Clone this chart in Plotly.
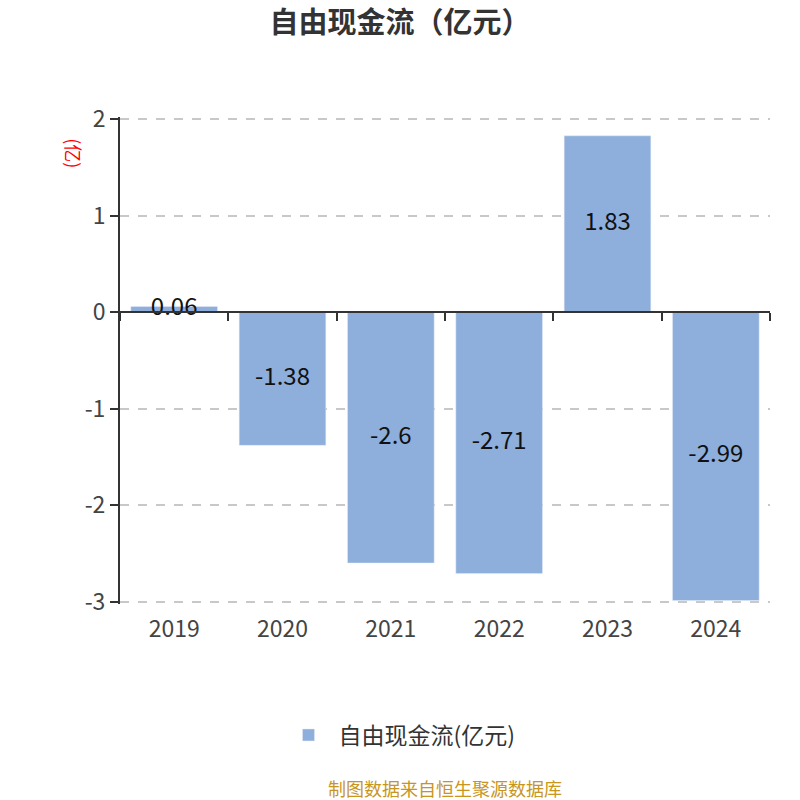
import plotly.graph_objects as go

years = ["2019", "2020", "2021", "2022", "2023", "2024"]
fcf = [0.06, -1.38, -2.6, -2.71, 1.83, -2.99]
series_name = "自由现金流(亿元)"
y_ticks = [-3, -2, -1, 0, 1, 2]
y_tick_text = ["-3", "-2", "-1", "0", "1", "2"]

bar_color = "#8EAEDB"
font_family = "Noto Sans CJK SC"

fig = go.Figure()

fig.add_trace(go.Bar(
    x=years, y=fcf,
    name=series_name,
    marker=dict(color=bar_color),
    width=0.8,
))

# value labels centred in each bar
fig.add_trace(go.Scatter(
    x=years, y=[v / 2 for v in fcf],
    mode="text",
    text=[str(v) for v in fcf],
    textfont=dict(size=24, color="#111111", family=font_family),
    showlegend=False, hoverinfo="skip",
))

# invisible trace so the axis at zero (with boundary ticks) gets drawn
fig.add_trace(go.Scatter(
    x=years, y=[0] * len(years),
    mode="markers", marker=dict(opacity=0),
    xaxis="x2", showlegend=False, hoverinfo="skip",
))

# a little padding so the grid lines at 2 and -3 are still drawn
ymin, ymax = -3.025, 2.025
zero_pos = (0 - ymin) / (ymax - ymin)

fig.update_layout(
    width=800, height=800,
    paper_bgcolor="white", plot_bgcolor="white",
    font=dict(family=font_family, color="#333333"),
    margin=dict(l=120, r=30, t=117, b=196),
    title=dict(text="<b>自由现金流（亿元）</b>", x=0.5, xanchor="center",
               y=0.972, yanchor="middle",
               font=dict(size=29, color="#333333", family=font_family)),
    bargap=0.2,
    xaxis=dict(
        type="category",
        showline=False, showgrid=False, ticks="",
        tickfont=dict(size=23, color="#444444"),
        ticklabelstandoff=9,
    ),
    xaxis2=dict(
        type="category", overlaying="x", matches="x",
        anchor="free", position=zero_pos,
        showline=True, linecolor="#333333", linewidth=2,
        ticks="outside", tickson="boundaries", ticklen=8,
        tickcolor="#333333", tickwidth=2,
        showticklabels=False, showgrid=False,
    ),
    yaxis=dict(
        range=[ymin, ymax], tickvals=y_ticks, ticktext=y_tick_text,
        showline=True, linecolor="#333333", linewidth=2,
        ticks="outside", ticklen=8, tickcolor="#333333", tickwidth=2,
        tickfont=dict(size=23, color="#444444"),
        showgrid=True, gridcolor="#C8C8C8", griddash="dash", gridwidth=1.5,
        zeroline=False,
    ),
    legend=dict(orientation="h", x=0.43, xanchor="center", y=-0.269, yanchor="middle",
                font=dict(size=23, color="#333333"), itemwidth=50),
    annotations=[
        dict(text="(亿)", xref="paper", yref="paper", x=-0.095, y=0.96,
             showarrow=False, textangle=90,
             font=dict(size=18, color="#FF0000", family=font_family)),
        dict(text="制图数据来自恒生聚源数据库", xref="paper", yref="paper",
             x=0.5, xanchor="center", y=-0.377, yanchor="middle",
             showarrow=False,
             font=dict(size=18, color="#C8961E", family=font_family)),
    ],
)

fig.write_html("out.html", config={"displayModeBar": False},
               post_script="document.body.style.margin='0px';")
